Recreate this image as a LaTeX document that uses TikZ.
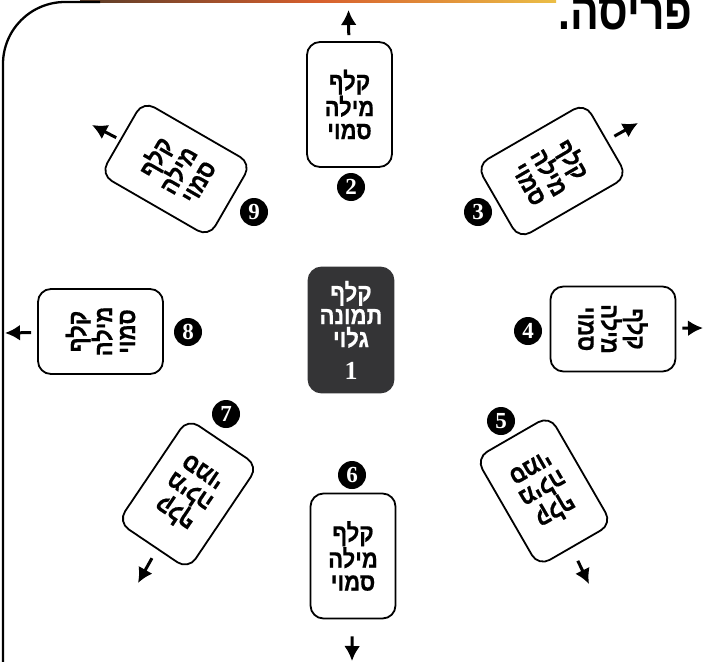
\documentclass[tikz,border=0pt]{standalone}
\usepackage{fontspec}
\setmainfont{Liberation Serif}
\newfontfamily\hebfont[Script=Hebrew, FakeStretch=0.88, BoldFeatures={FakeBold=0.6}]{Liberation Sans}
\newfontfamily\headfont[Script=Hebrew, FakeStretch=0.82]{Liberation Sans}
\TeXXeTstate=1
\usetikzlibrary{arrows.meta}
\newcommand{\hb}[1]{\beginR #1\endR}
\newcommand{\cardtext}{\hb{קלף}\\\hb{מילה}\\\hb{סמוי}}
\definecolor{darkcard}{RGB}{52,52,54}
\definecolor{bandA}{RGB}{90,60,40}
\definecolor{bandB}{RGB}{215,95,45}
\definecolor{bandC}{RGB}{235,190,70}
\tikzset{
  card/.style={draw=black, line width=1.8pt, rounded corners=13pt,
    minimum width=85pt, minimum height=125pt, fill=white, inner sep=0pt,
    align=center, font=\hebfont\bfseries\fontsize{25}{23}\selectfont},
  darkcardbox/.style={card, fill=darkcard, draw=darkcard, text=white},
  num/.style={circle, fill=black, text=white, minimum size=28pt, inner sep=0pt,
    font=\bfseries\fontsize{23}{23}\selectfont},
  outarrow/.style={-{Latex[length=15pt,width=16pt]}, line width=3pt},
}
\begin{document}
\begin{tikzpicture}[x=1pt,y=-1pt]
\path[use as bounding box] (0,0) rectangle (703,661);
\clip (0,0) rectangle (703,661);
\fill[white] (0,0) rectangle (703,661);
% frame
\shade[left color=bandA, right color=bandC, middle color=bandB] (80,0) rectangle (556,2.8);
\draw[line width=2.3pt, rounded corners=62pt] (3,670) -- (3,2) -- (100,2);
% heading
\node[anchor=base west, inner sep=0pt, font=\headfont\bfseries\fontsize{52}{52}\selectfont] (head) at (558,30) {\hb{פריסה.}};
% cards
\node[darkcardbox] (c1) at (351,330) {\hb{קלף}\\\hb{תמונה}\\\hb{גלוי}\\[9pt]{\rmfamily\fontsize{26}{26}\selectfont 1}};
\node[card] (c2) at (349.5,104.5) {\cardtext};
\node[card] (c6) at (353,556) {\cardtext};
\node[card, rotate=90] (c8) at (100.5,331.5) {\cardtext};
\node[card, rotate=-90] (c4) at (613,329) {\cardtext};
\node[card, rotate=60] (c9) at (176,169) {\cardtext};
\node[card, rotate=-60] (c3) at (552,171) {\cardtext};
\node[card, rotate=146] (c7) at (188,494) {\cardtext};
\node[card, rotate=-150] (c5) at (544,491) {\cardtext};
% numbers
\node[num] (n2) at (351,187) {2};
\node[num] (n3) at (478,212) {3};
\node[num] (n4) at (528,331) {4};
\node[num] (n5) at (501,421) {5};
\node[num] (n6) at (352,475) {6};
\node[num] (n7) at (226,414) {7};
\node[num] (n8) at (188,332) {8};
\node[num] (n9) at (254,212) {9};
% arrow tips
\coordinate (t2) at (348.5,10);
\coordinate (t3) at (638,123);
\coordinate (t4) at (703,328);
\coordinate (t5) at (589,584);
\coordinate (t6) at (352,661);
\coordinate (t7) at (138,583);
\coordinate (t8) at (5,333);
\coordinate (t9) at (92,125);
\draw[outarrow, shorten <=6pt] (c2) -- (t2);
\draw[outarrow, shorten <=8pt] (c3) -- (t3);
\draw[outarrow, shorten <=6pt] (c4) -- (t4);
\draw[outarrow, shorten <=14pt] (c5) -- (t5);
\draw[outarrow, shorten <=17pt] (c6) -- (t6);
\draw[outarrow, shorten <=10pt] (c7) -- (t7);
\draw[outarrow, shorten <=6pt] (c8) -- (t8);
\draw[outarrow, shorten <=4pt] (c9) -- (t9);
\end{tikzpicture}
\end{document}
